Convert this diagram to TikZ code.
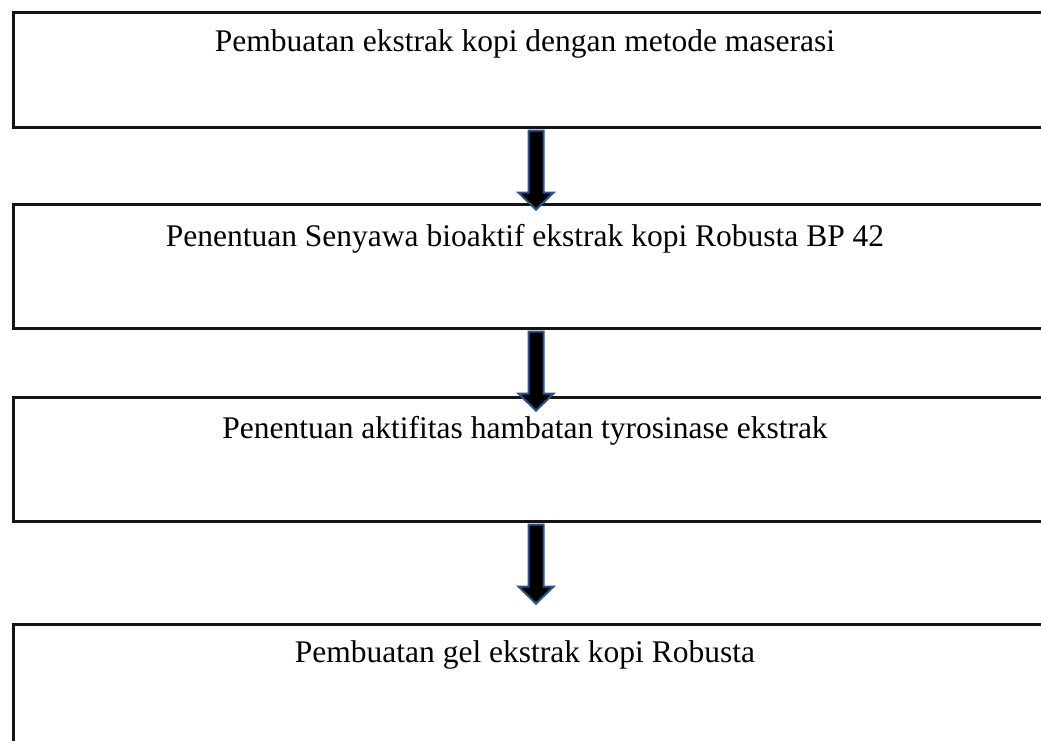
\documentclass[tikz,border=0pt]{standalone}
\usepackage{fontspec}
\setmainfont{Liberation Serif}
\usetikzlibrary{calc}
\definecolor{arrowblue}{RGB}{47,82,143}
\definecolor{boxline}{RGB}{20,20,20}
\tikzset{
  x=1pt, y=-1pt,
  stepbox/.style={draw=boxline, line width=2.6pt, fill=white, inner sep=0pt, anchor=north west, minimum width=1048pt},
  steptext/.style={anchor=base, inner sep=0pt, font=\fontsize{31.5}{36}\selectfont},
  blockarrow/.style={fill=black, draw=arrowblue, line width=2pt, line join=miter}
}
\newcommand\flowarrow[2]{%
  \coordinate (#2) at ($(#1.south west)+(524,2)$);
  \draw[blockarrow] ($(#2)+(-7.5,0)$) -- ($(#2)+(-7.5,62)$) -- ($(#2)+(-17.5,62)$) -- ($(#2)+(0,79)$) -- ($(#2)+(17.5,62)$) -- ($(#2)+(7.5,62)$) -- ($(#2)+(7.5,0)$) -- cycle;}
\begin{document}
\begin{tikzpicture}
\useasboundingbox (0,0) rectangle (1041,740);
\clip (0,0) rectangle (1041,740);
\node[stepbox, minimum height=115pt] (b1) at (12,11) {};
\node[stepbox, minimum height=124pt] (b2) at (12,203) {};
\node[stepbox, minimum height=124pt] (b3) at (12,396) {};
\node[stepbox, minimum height=140pt] (b4) at (12,623) {};
\node[steptext] (t1) at ($(b1.north west)+(513,40)$) {Pembuatan ekstrak kopi dengan metode maserasi};
\node[steptext] (t2) at ($(b2.north west)+(513,43)$) {Penentuan Senyawa bioaktif ekstrak kopi Robusta BP 42};
\node[steptext] (t3) at ($(b3.north west)+(513,42)$) {Penentuan aktifitas hambatan tyrosinase ekstrak};
\node[steptext] (t4) at ($(b4.north west)+(513,39)$) {Pembuatan gel ekstrak kopi Robusta};
\flowarrow{b1}{a1}
\flowarrow{b2}{a2}
\flowarrow{b3}{a3}
\end{tikzpicture}
\end{document}
